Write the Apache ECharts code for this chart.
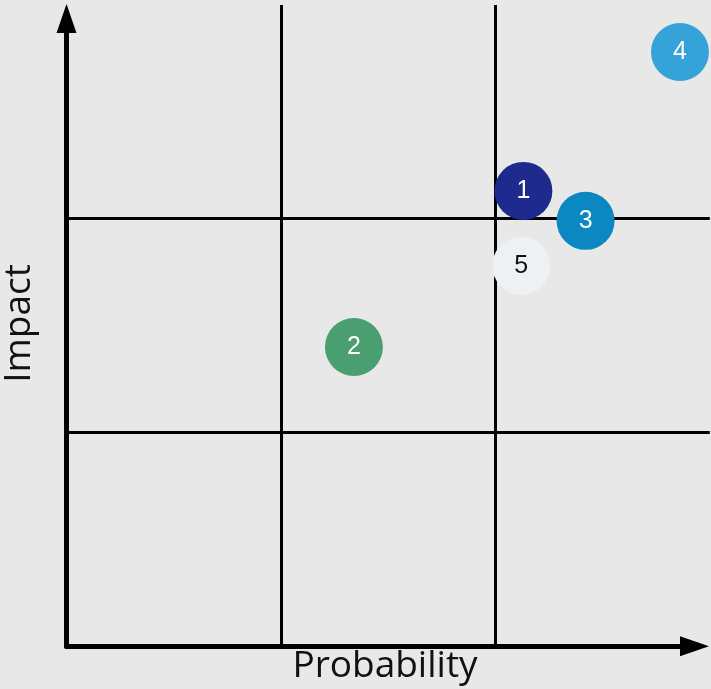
<!DOCTYPE html>
<html>
<head>
<meta charset="utf-8">
<script src="https://cdn.jsdelivr.net/npm/echarts@6/dist/echarts.min.js"></script>
<style>
  html, body { margin: 0; padding: 0; background: #e8e8e8; }
  #container { width: 711px; height: 689px; }
</style>
</head>
<body>
<div id="container"></div>
<script>
var riskIds = ['1', '2', '3', '4', '5'];
var probability = [2.13, 1.34, 2.42, 2.86, 2.12];
var impact = [2.13, 1.40, 1.99, 2.78, 1.78];

var palette = ['#1f2a8e', '#4a9f70', '#0b88c1', '#35a3da', '#eef1f3'];
var labelColors = ['#fff', '#fff', '#fff', '#fff', '#111'];

var dom = document.getElementById('container');
var myChart = echarts.init(dom);

var points = riskIds.map(function (id, i) {
    return {
        name: id,
        value: [probability[i], impact[i]],
        itemStyle: { color: palette[i], opacity: 1 },
        label: { color: labelColors[i] }
    };
});

// one unit of the 3x3 grid in pixels
var unitX = 214.5;
var unitY = 213.8;
var originX = 66.5;
var originY = 646.3;
// grid lines run to the edges, the arrows stop a bit short
var gridMax = 2.999;
var arrowW = 628, arrowH = 627.8;

var splitLine = {
    show: true,
    showMinLine: false,
    showMaxLine: false,
    lineStyle: { color: '#000', width: 3 }
};
var axisLine = {
    show: true,
    symbol: ['none', 'triangle'],
    symbolSize: [20, 29],
    lineStyle: { color: '#000', width: 5 }
};
var nameStyle = { fontFamily: 'Open Sans', fontSize: 37, color: '#111' };

var option = {
    backgroundColor: '#e8e8e8',
    animation: false,
    grid: [
        {
            left: originX, top: originY - gridMax * unitY,
            width: gridMax * unitX, height: gridMax * unitY,
            outerBoundsMode: 'none'
        },
        {
            left: originX, top: originY - arrowH,
            width: arrowW, height: arrowH,
            outerBoundsMode: 'none'
        }
    ],
    xAxis: [
        {
            gridIndex: 0, type: 'value', min: 0, max: gridMax, interval: 1,
            axisLine: { show: false }, axisTick: { show: false }, axisLabel: { show: false },
            splitLine: splitLine
        },
        {
            gridIndex: 1, type: 'value', min: 0, max: arrowW / unitX, interval: 1,
            name: 'Probability',
            nameLocation: 'middle',
            nameGap: 2,
            nameTextStyle: Object.assign({ padding: [0, 0, 0, 9] }, nameStyle),
            axisLine: axisLine, axisTick: { show: false }, axisLabel: { show: false },
            splitLine: { show: false }
        }
    ],
    yAxis: [
        {
            gridIndex: 0, type: 'value', min: 0, max: gridMax, interval: 1,
            axisLine: { show: false }, axisTick: { show: false }, axisLabel: { show: false },
            splitLine: splitLine
        },
        {
            gridIndex: 1, type: 'value', min: 0, max: arrowH / unitY, interval: 1,
            name: 'Impact',
            nameLocation: 'middle',
            nameGap: 29,
            nameTextStyle: Object.assign({ padding: [0, 0, 0, 18] }, nameStyle),
            axisLine: axisLine, axisTick: { show: false }, axisLabel: { show: false },
            splitLine: { show: false }
        }
    ],
    series: [
        {
            type: 'scatter',
            xAxisIndex: 0,
            yAxisIndex: 0,
            symbolSize: 58,
            z: 5,
            data: points,
            label: {
                show: true,
                formatter: '{b}',
                fontFamily: 'Liberation Sans',
                fontSize: 25
            }
        }
    ]
};

myChart.setOption(option);
</script>
</body>
</html>
